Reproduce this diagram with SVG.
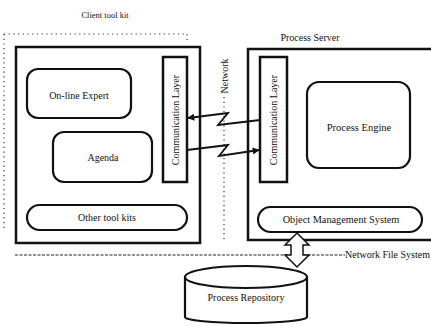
<svg xmlns="http://www.w3.org/2000/svg" width="431" height="326" viewBox="0 0 431 326">
<style>
text{font-family:"Liberation Serif","Times New Roman",serif;font-size:10px;fill:#111;}
.c{text-anchor:middle;}
.box{fill:none;stroke:#111;stroke-width:2.5;}
.rbox{fill:#fff;stroke:#111;stroke-width:2.2;}
.dot{fill:none;stroke:#333;stroke-width:1.2;stroke-dasharray:1.2 3.5;}
.dash{fill:none;stroke:#222;stroke-width:1.2;stroke-dasharray:3 1.5;}
.link{fill:none;stroke:#111;stroke-width:1.8;}
</style>
<defs>
<marker id="ah" viewBox="0 0 10 10" refX="9" refY="5" markerWidth="8" markerHeight="7" markerUnits="userSpaceOnUse" orient="auto">
<path d="M0,0 L10,5 L0,10 Z" fill="#111"/>
</marker>
</defs>
<rect width="431" height="326" fill="#fff"/>

<g id="boundaries">
<path class="dot" d="M4 34 H187 V40"/>
<path class="dot" d="M4 34 V228"/>
<path class="dash" d="M15 255 H345"/>
<path class="dot" d="M224 97 V242"/>
<text x="345" y="258">Network File System</text>
<text class="c" transform="translate(228 76) rotate(-90)">Network</text>
</g>

<g id="client-tool-kit">
<text class="c" x="105" y="18" style="font-size:8.5px">Client tool kit</text>
<rect class="box" x="16" y="47" width="184" height="196"/>
</g>

<g id="online-expert">
<rect class="rbox" x="27" y="69" width="104" height="49" rx="11"/>
<text class="c" x="79" y="99">On-line Expert</text>
</g>

<g id="agenda">
<rect class="rbox" x="53" y="132" width="99" height="50" rx="11"/>
<text class="c" x="103" y="161">Agenda</text>
</g>

<g id="other-tool-kits">
<rect class="rbox" x="27" y="205" width="160" height="25" rx="12.5"/>
<text class="c" x="107" y="221">Other tool kits</text>
</g>

<g id="client-comm-layer">
<rect class="box" x="163" y="57" width="24" height="125"/>
<text class="c" transform="translate(179 120) rotate(-90)">Communication Layer</text>
</g>

<g id="process-server">
<text class="c" x="310" y="41">Process Server</text>
<rect class="box" x="248" y="49" width="200" height="191"/>
</g>

<g id="server-comm-layer">
<rect class="box" x="260" y="57" width="27" height="125"/>
<text class="c" transform="translate(277 120) rotate(-90)">Communication Layer</text>
</g>

<g id="process-engine">
<rect class="rbox" x="307" y="82" width="103" height="86" rx="12"/>
<text class="c" x="359" y="131" style="font-size:10.5px">Process Engine</text>
</g>

<g id="object-management-system">
<rect class="rbox" x="258" y="207" width="164" height="25" rx="12.5"/>
<text class="c" x="341" y="223" style="font-size:10.3px">Object Management System</text>
</g>

<g id="process-repository">
<path d="M185 277 A61 11 0 0 1 307 277 V317 A61 6 0 0 1 185 317 Z" fill="#fff" stroke="#111" stroke-width="2.2"/>
<path d="M185 277 A61 11 0 0 0 307 277" fill="none" stroke="#111" stroke-width="2.2"/>
<text class="c" x="246" y="301">Process Repository</text>
</g>

<g id="connectors">
<path class="link" d="M260 120 L218 125 L228 113 L188 118" marker-end="url(#ah)"/>
<path class="link" d="M187 150 L228 145 L219 156 L259 150" marker-end="url(#ah)"/>
<polygon points="297,233 309,245 303,245 303,255 309,255 297,267 285,255 291,255 291,245 285,245" fill="#fff" stroke="#111" stroke-width="1.5"/>
</g>
</svg>
